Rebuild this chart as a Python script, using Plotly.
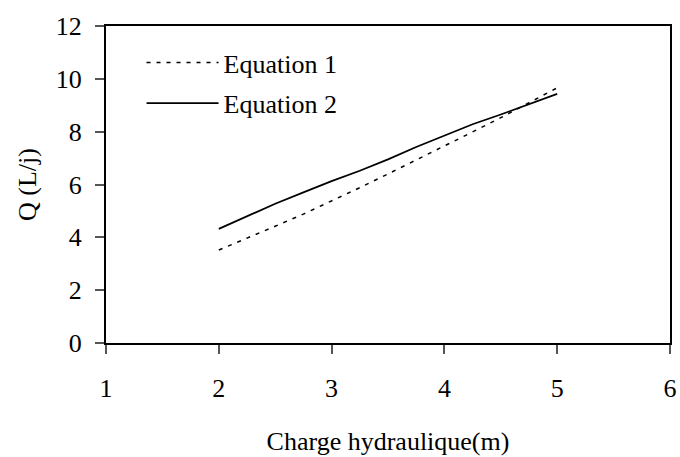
import plotly.graph_objects as go

h = [2.0, 2.25, 2.5, 2.75, 3.0, 3.25, 3.5, 3.75, 4.0, 4.25, 4.5, 4.75, 5.0]
eq1 = [3.52, 3.96, 4.42, 4.88, 5.37, 5.88, 6.40, 6.92, 7.45, 7.99, 8.53, 9.09, 9.66]
eq2 = [4.32, 4.80, 5.27, 5.70, 6.13, 6.52, 6.95, 7.42, 7.85, 8.28, 8.65, 9.05, 9.43]

FONT = "Liberation Serif, Times New Roman, serif"
FS = 26

fig = go.Figure()
fig.add_trace(go.Scatter(x=h, y=eq1, mode="lines", name="Equation 1", legendgroup="a",
                         line=dict(color="black", width=1.5, dash="4px,6px")))
fig.add_trace(go.Scatter(x=h, y=eq2, mode="lines", name="Equation 2", legendgroup="b",
                         line=dict(color="black", width=1.8)))

fig.update_layout(
    width=680, height=457,
    margin=dict(l=106, r=10, t=26, b=114),
    paper_bgcolor="white", plot_bgcolor="white",
    font=dict(family=FONT, size=FS, color="black"),
    showlegend=True,
    legend=dict(x=0.063, y=0.959, xanchor="left", yanchor="top",
                bgcolor="rgba(0,0,0,0)", font=dict(size=FS),
                itemwidth=72, traceorder="grouped", tracegroupgap=4),
    xaxis=dict(range=[1, 6], tickmode="array", tickvals=[1, 2, 3, 4, 5, 6],
               ticks="outside", ticklen=9, tickcolor="#555", tickwidth=1.5,
               ticklabelstandoff=12, ticklabeloverflow="allow",
               showline=True, linecolor="black", linewidth=2, mirror=True,
               showgrid=False, zeroline=False, automargin=False,
               title=dict(text="Charge hydraulique(m)", standoff=30,
                          font=dict(size=FS))),
    yaxis=dict(range=[0, 12], tickmode="array", tickvals=[0, 2, 4, 6, 8, 10, 12],
               ticks="outside", ticklen=9, tickcolor="#555", tickwidth=1.5,
               ticklabelstandoff=8, ticklabeloverflow="allow",
               showline=True, linecolor="black", linewidth=2, mirror=True,
               showgrid=False, zeroline=False, automargin=False,
               title=dict(text="Q (L/j)", standoff=12, font=dict(size=FS))),
)

fig.write_html("out.html",
               config={"displayModeBar": False},
               post_script="document.body.style.margin='0';document.body.style.overflow='hidden';")
